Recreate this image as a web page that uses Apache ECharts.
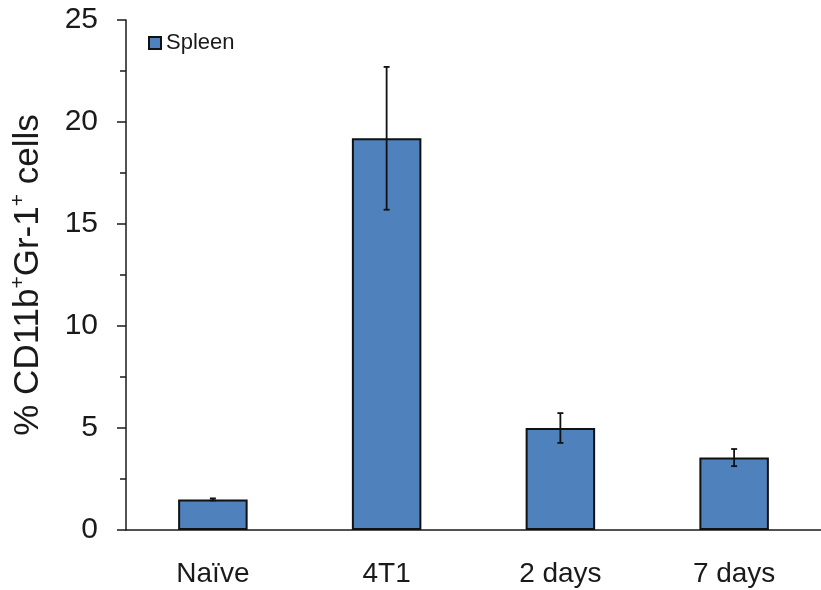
<!DOCTYPE html>
<html>
<head>
<meta charset="utf-8">
<script src="https://cdn.jsdelivr.net/npm/echarts@6/dist/echarts.min.js"></script>
<style>
  html, body { margin: 0; padding: 0; background: #fff; }
  #chart { width: 821px; height: 590px; }
</style>
</head>
<body>
<div id="chart"></div>
<script>
// data
const categories = ['Naïve', '4T1', '2 days', '7 days']
const spleenMean = [1.5, 19.2, 5.0, 3.55]
const spleenErr = [0.05, 3.5, 0.73, 0.42]
const yTicks = { min: 0, max: 25, interval: 5 }

const fontFamily = '"Liberation Sans", Arial, sans-serif'
const ink = '#1a1a1a'

const errData = categories.map((c, i) => [i, spleenMean[i] - spleenErr[i], spleenMean[i] + spleenErr[i]])

const chart = echarts.init(document.getElementById('chart'))

chart.setOption({
  animation: false,
  textStyle: { fontFamily: fontFamily, color: ink },
  grid: { left: 124, right: -6, top: 20, bottom: 60 },
  legend: {
    data: ['Spleen'],
    left: 143,
    top: 27,
    icon: 'rect',
    itemWidth: 12,
    itemHeight: 12,
    textStyle: { fontSize: 22, color: ink, fontFamily: fontFamily }
  },
  xAxis: {
    type: 'category',
    data: categories,
    axisLine: { lineStyle: { color: ink, width: 1.5 } },
    axisTick: { length: 7, lineStyle: { color: ink, width: 1.5 } },
    axisLabel: { fontSize: 28, color: ink, margin: 30 }
  },
  yAxis: {
    type: 'value',
    min: yTicks.min,
    max: yTicks.max,
    interval: yTicks.interval,
    name: '% CD11b{sup|+}Gr-1{sup|+} cells',
    nameLocation: 'middle',
    nameRotate: 90,
    nameGap: 78,
    nameTextStyle: {
      fontSize: 35,
      color: ink,
      lineHeight: 40,
      rich: {
        sup: { fontSize: 21, verticalAlign: 'top', lineHeight: 24, color: ink }
      }
    },
    axisLine: { show: true, lineStyle: { color: ink, width: 1.5 } },
    axisTick: { show: true, length: 9, lineStyle: { color: ink, width: 1.5 } },
    minorTick: { show: true, splitNumber: 2, length: 6, lineStyle: { color: ink, width: 1.5 } },
    splitLine: { show: false },
    axisLabel: { fontSize: 30, color: ink, margin: 28 }
  },
  series: [
    {
      name: 'Spleen',
      type: 'bar',
      barWidth: '40%',
      data: spleenMean,
      itemStyle: { color: '#4f81bd', borderColor: '#111', borderWidth: 2 }
    },
    {
      name: 'error',
      type: 'custom',
      data: errData,
      z: 5,
      renderItem: function (params, api) {
        const x = api.value(0)
        const lo = api.coord([x, api.value(1)])
        const hi = api.coord([x, api.value(2)])
        const cap = 3
        const style = { stroke: '#111', lineWidth: 1.8 }
        return {
          type: 'group',
          children: [
            { type: 'line', shape: { x1: lo[0], y1: lo[1], x2: hi[0], y2: hi[1] }, style: style },
            { type: 'line', shape: { x1: lo[0] - cap, y1: lo[1], x2: lo[0] + cap, y2: lo[1] }, style: style },
            { type: 'line', shape: { x1: hi[0] - cap, y1: hi[1], x2: hi[0] + cap, y2: hi[1] }, style: style }
          ]
        }
      }
    }
  ]
})
</script>
</body>
</html>
